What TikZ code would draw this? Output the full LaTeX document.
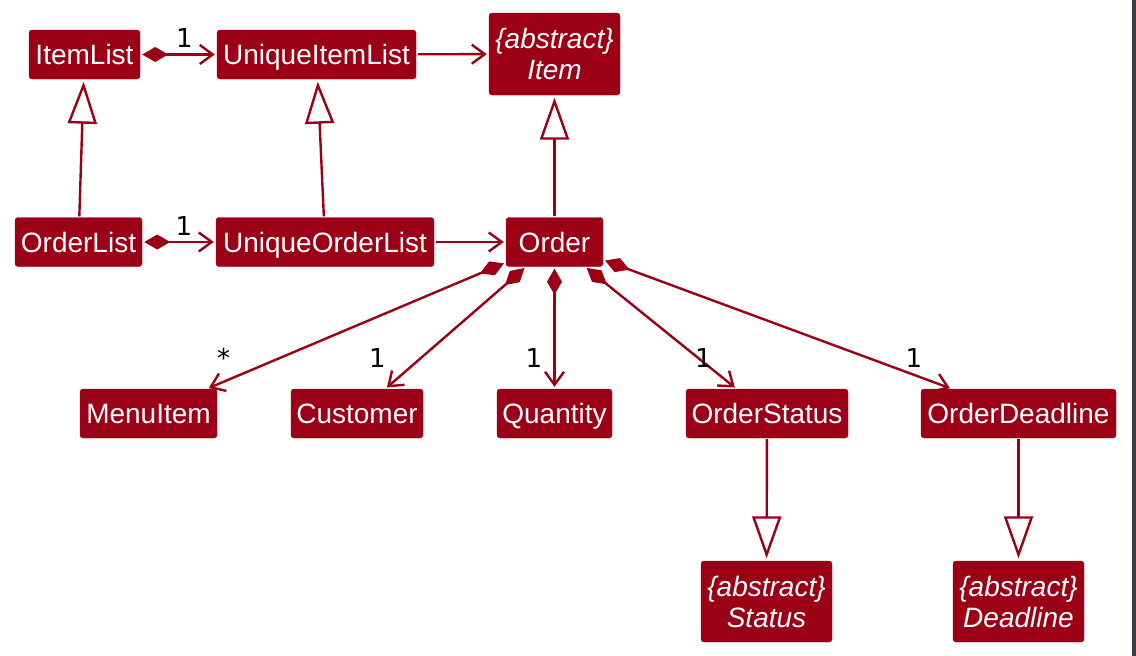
\documentclass[tikz,border=0pt]{standalone}
\usepackage{fontspec}
\setmainfont{Liberation Sans}
\newfontfamily\lblfont{DejaVu Sans}
\usetikzlibrary{arrows.meta}
\definecolor{umlred}{HTML}{9C0016}
\definecolor{edgegray}{HTML}{3B3E43}
\begin{document}
\begin{tikzpicture}[x=1pt,y=-1pt,
  clsbase/.style={draw=umlred, fill=umlred, rounded corners=3pt, text=white, inner sep=0pt,
    font=\fontsize{28}{31}\selectfont, align=center},
  cls/.style={clsbase, minimum height=49pt, text height=20pt, text depth=0pt},
  cls2/.style={clsbase, minimum height=81pt},
  lbl/.style={font=\lblfont\fontsize{26}{26}\selectfont, inner sep=0pt, text=black, anchor=base},
  conn/.style={draw=umlred, line width=2.4pt},
  assoc/.style={conn, shorten >=2pt, shorten <=2pt, -{Straight Barb[length=13pt,width=19pt,line width=2.4pt]}},
  comp/.style={conn, shorten >=2pt, shorten <=2pt, {Diamond[length=26pt,width=15pt,fill=umlred]}-{Straight Barb[length=13pt,width=19pt,line width=2.4pt]}},
  gen/.style={conn, shorten >=2.5pt, shorten <=1pt, -{Triangle[length=42pt,width=29pt,fill=white,line width=2.4pt]}}
]
\fill[white] (0,0) rectangle (1136,656);
\fill[edgegray] (1132,0) rectangle (1136,656);

% top row
\node[cls, minimum width=111pt] (itemlist) at (84.5,54.5) {ItemList};
\node[cls, minimum width=199pt] (uniqueitemlist) at (316.5,54.5) {UniqueItemList};
\node[cls2, minimum width=131pt, minimum height=82pt] (item) at (554.5,54) {\itshape\{abstract\}\\\itshape Item};

% second row
\node[cls, minimum width=127pt] (orderlist) at (78.5,242) {OrderList};
\node[cls, minimum width=218pt] (uniqueorderlist) at (325,242) {UniqueOrderList};
\node[cls, minimum width=97pt] (order) at (554.5,242) {Order};

% third row
\node[cls, minimum width=137pt] (menuitem) at (148.5,413.5) {MenuItem};
\node[cls, minimum width=132pt] (customer) at (357,413.5) {Customer};
\node[cls, minimum width=115pt] (quantity) at (554.5,413.5) {Quantity};
\node[cls, minimum width=162pt] (orderstatus) at (767,413.5) {OrderStatus};
\node[cls, minimum width=195pt] (orderdeadline) at (1018.5,413.5) {OrderDeadline};

% bottom row
\node[cls2, minimum width=131pt] (status) at (766.5,601.5) {\itshape\{abstract\}\\\itshape Status};
\node[cls2, minimum width=131pt] (deadline) at (1018.5,601.5) {\itshape\{abstract\}\\\itshape Deadline};

% connectors
\draw[comp] (itemlist) -- (uniqueitemlist);
\draw[assoc] (uniqueitemlist) -- (item);
\draw[comp] (orderlist) -- (uniqueorderlist);
\draw[assoc] (uniqueorderlist) -- (order);

\draw[gen] (orderlist) -- (itemlist);
\draw[gen] (uniqueorderlist) -- (uniqueitemlist);
\draw[gen] (order) -- (item);

\draw[comp] (order) -- (menuitem);
\draw[comp] (order) -- (customer);
\draw[comp] (order) -- (quantity);
\draw[comp] (order) -- (orderstatus);
\draw[comp] (order) -- (orderdeadline);

\draw[gen] (orderstatus) -- (status);
\draw[gen] (orderdeadline) -- (deadline);

% multiplicity labels
\node[lbl] (l1) at (184.5,47.5) {1};
\node[lbl] (l2) at (184,235) {1};
\node[lbl] (l3) at (223.5,367) {*};
\node[lbl] (l4) at (377.5,367) {1};
\node[lbl] (l5) at (534,367) {1};
\node[lbl] (l6) at (703.5,367) {1};
\node[lbl] (l7) at (914,367) {1};
\end{tikzpicture}
\end{document}
